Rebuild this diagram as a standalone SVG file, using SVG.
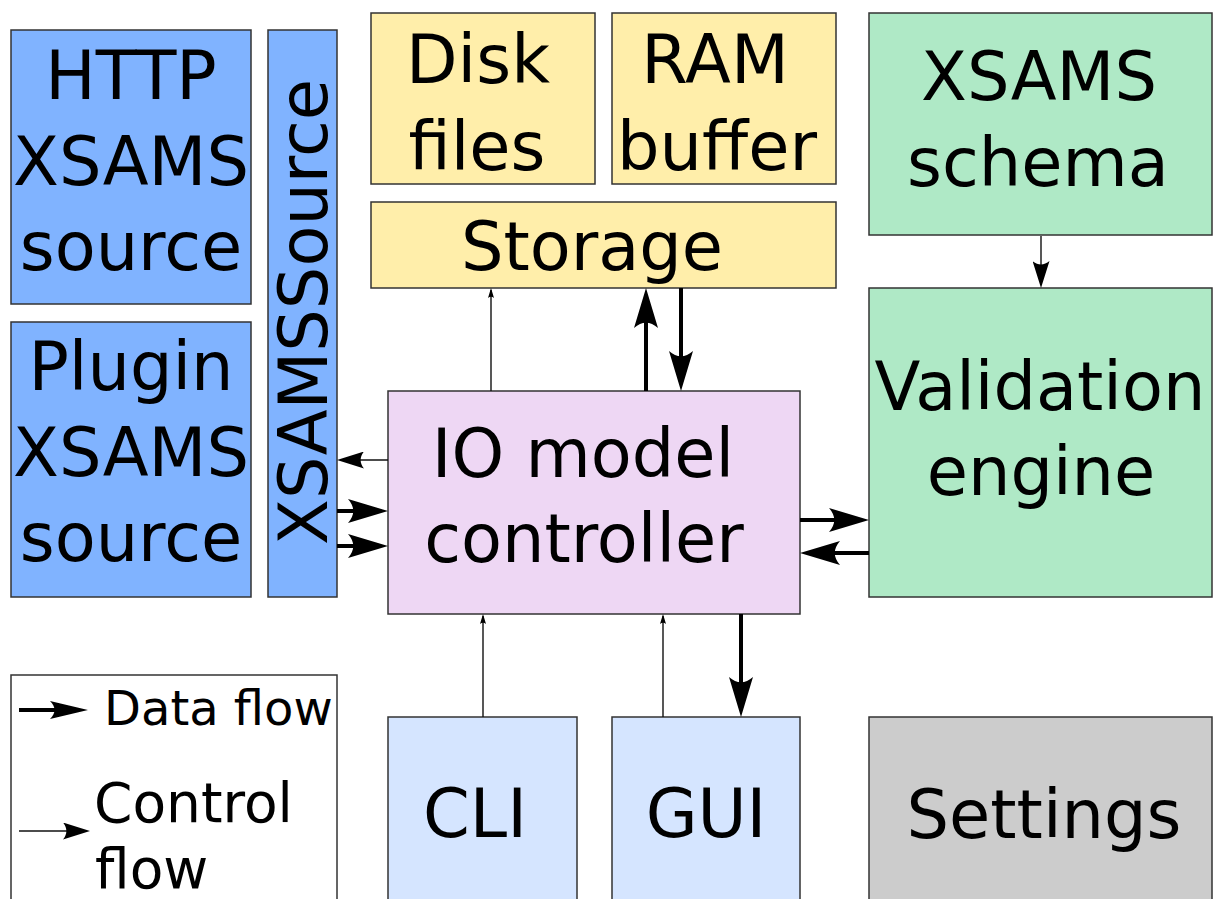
<svg xmlns="http://www.w3.org/2000/svg" width="1213" height="899" viewBox="0 0 1213 899">
<style>
.box{stroke:#333;stroke-width:1.5}
.blue{fill:#80b3ff}.yel{fill:#ffeeaa}.grn{fill:#afe9c6}.pur{fill:#eed7f4}.lb{fill:#d5e5ff}.gry{fill:#cccccc}.wht{fill:#ffffff}
text{font-family:"DejaVu Sans","Liberation Sans",sans-serif;font-size:67px;fill:#000;text-anchor:middle}
.thick{stroke:#000;stroke-width:4;fill:none}
.thin{stroke:#111;stroke-width:1.4;fill:none}
</style>
<defs>
<marker id="big" markerUnits="userSpaceOnUse" markerWidth="40" markerHeight="24" viewBox="-40 -12 40 24" refX="-20" refY="0" orient="auto">
<path d="M0,0 L-40,-12 C-33,-4 -33,4 -40,12 Z" fill="#000"/>
</marker>
<marker id="bigL" markerUnits="userSpaceOnUse" markerWidth="38" markerHeight="18" viewBox="-38 -9 38 18" refX="-18" refY="0" orient="auto">
<path d="M0,0 L-38,-9 C-32,-3 -32,3 -38,9 Z" fill="#000"/>
</marker>
<marker id="med" markerUnits="userSpaceOnUse" markerWidth="27" markerHeight="17" viewBox="-27 -8.5 27 17" refX="-6" refY="0" orient="auto">
<path d="M0,0 L-27,-8.5 C-22.5,-3 -22.5,3 -27,8.5 Z" fill="#000"/>
</marker>
<marker id="sml" markerUnits="userSpaceOnUse" markerWidth="10" markerHeight="6" viewBox="-10 -3 10 6" refX="-2" refY="0" orient="auto">
<path d="M0,0 L-10,-3 C-8.3,-1 -8.3,1 -10,3 Z" fill="#000"/>
</marker>
</defs>

<g id="http-source"><rect class="box blue" x="11" y="30" width="240" height="274"/>
<text x="131" y="99">HTTP</text><text x="131" y="185">XSAMS</text><text x="131" y="270">source</text></g>
<g id="plugin-source"><rect class="box blue" x="11" y="322" width="240" height="275"/>
<text x="131" y="390">Plugin</text><text x="131" y="476">XSAMS</text><text x="131" y="561">source</text></g>
<g id="xsams-source"><rect class="box blue" x="268" y="30" width="69" height="567"/>
<text transform="translate(327,312) rotate(-90)">XSAMSSource</text></g>
<g id="disk-files"><rect class="box yel" x="371" y="13" width="224" height="171"/>
<text x="478" y="83">Disk</text><text x="477" y="170">files</text></g>
<g id="ram-buffer"><rect class="box yel" x="612" y="13" width="224" height="171"/>
<text x="715" y="83">RAM</text><text x="717" y="170">buffer</text></g>
<g id="storage"><rect class="box yel" x="371" y="202" width="465" height="86"/>
<text x="592" y="270">Storage</text></g>
<g id="xsams-schema"><rect class="box grn" x="869" y="13" width="343" height="222"/>
<text x="1039" y="100">XSAMS</text><text x="1038" y="186">schema</text></g>
<g id="validation-engine"><rect class="box grn" x="869" y="288" width="343" height="309"/>
<text x="1040" y="410">Validation</text><text x="1041" y="495">engine</text></g>
<g id="io-controller"><rect class="box pur" x="388" y="391" width="412" height="223"/>
<text x="583" y="477">IO model</text><text x="584" y="562">controller</text></g>
<g id="cli"><rect class="box lb" x="388" y="717" width="189" height="190"/>
<text x="475" y="837">CLI</text></g>
<g id="gui"><rect class="box lb" x="612" y="717" width="188" height="190"/>
<text x="706" y="837">GUI</text></g>
<g id="settings"><rect class="box gry" x="869" y="717" width="343" height="190"/>
<text x="1044" y="838">Settings</text></g>

<g id="legend"><rect class="box wht" x="11" y="675" width="326" height="240"/>
<line class="thick" x1="19" y1="710" x2="70" y2="710" marker-end="url(#bigL)"/>
<text x="104" y="725" style="font-size:48px;text-anchor:start">Data flow</text>
<line class="thin" x1="19" y1="831" x2="84" y2="831" marker-end="url(#med)"/>
<text x="94" y="822" style="font-size:55px;text-anchor:start">Control</text>
<text x="95" y="888" style="font-size:55px;text-anchor:start">flow</text>
</g>

<g id="connectors">
<line class="thin" x1="491" y1="391" x2="491" y2="290" marker-end="url(#sml)"/>
<line class="thick" x1="646" y1="391" x2="646" y2="308" marker-end="url(#big)"/>
<line class="thick" x1="681" y1="288" x2="681" y2="371" marker-end="url(#big)"/>
<line class="thin" x1="388" y1="460" x2="343" y2="460" marker-end="url(#med)"/>
<line class="thick" x1="337" y1="511" x2="368" y2="511" marker-end="url(#big)"/>
<line class="thick" x1="337" y1="546" x2="368" y2="546" marker-end="url(#big)"/>
<line class="thick" x1="800" y1="520" x2="849" y2="520" marker-end="url(#big)"/>
<line class="thick" x1="869" y1="553" x2="820" y2="553" marker-end="url(#big)"/>
<line class="thin" x1="483" y1="717" x2="483" y2="616" marker-end="url(#sml)"/>
<line class="thin" x1="663" y1="717" x2="663" y2="616" marker-end="url(#sml)"/>
<line class="thick" x1="741" y1="614" x2="741" y2="697" marker-end="url(#big)"/>
<line class="thin" x1="1041" y1="236" x2="1041" y2="282" marker-end="url(#med)"/>
</g>
</svg>
